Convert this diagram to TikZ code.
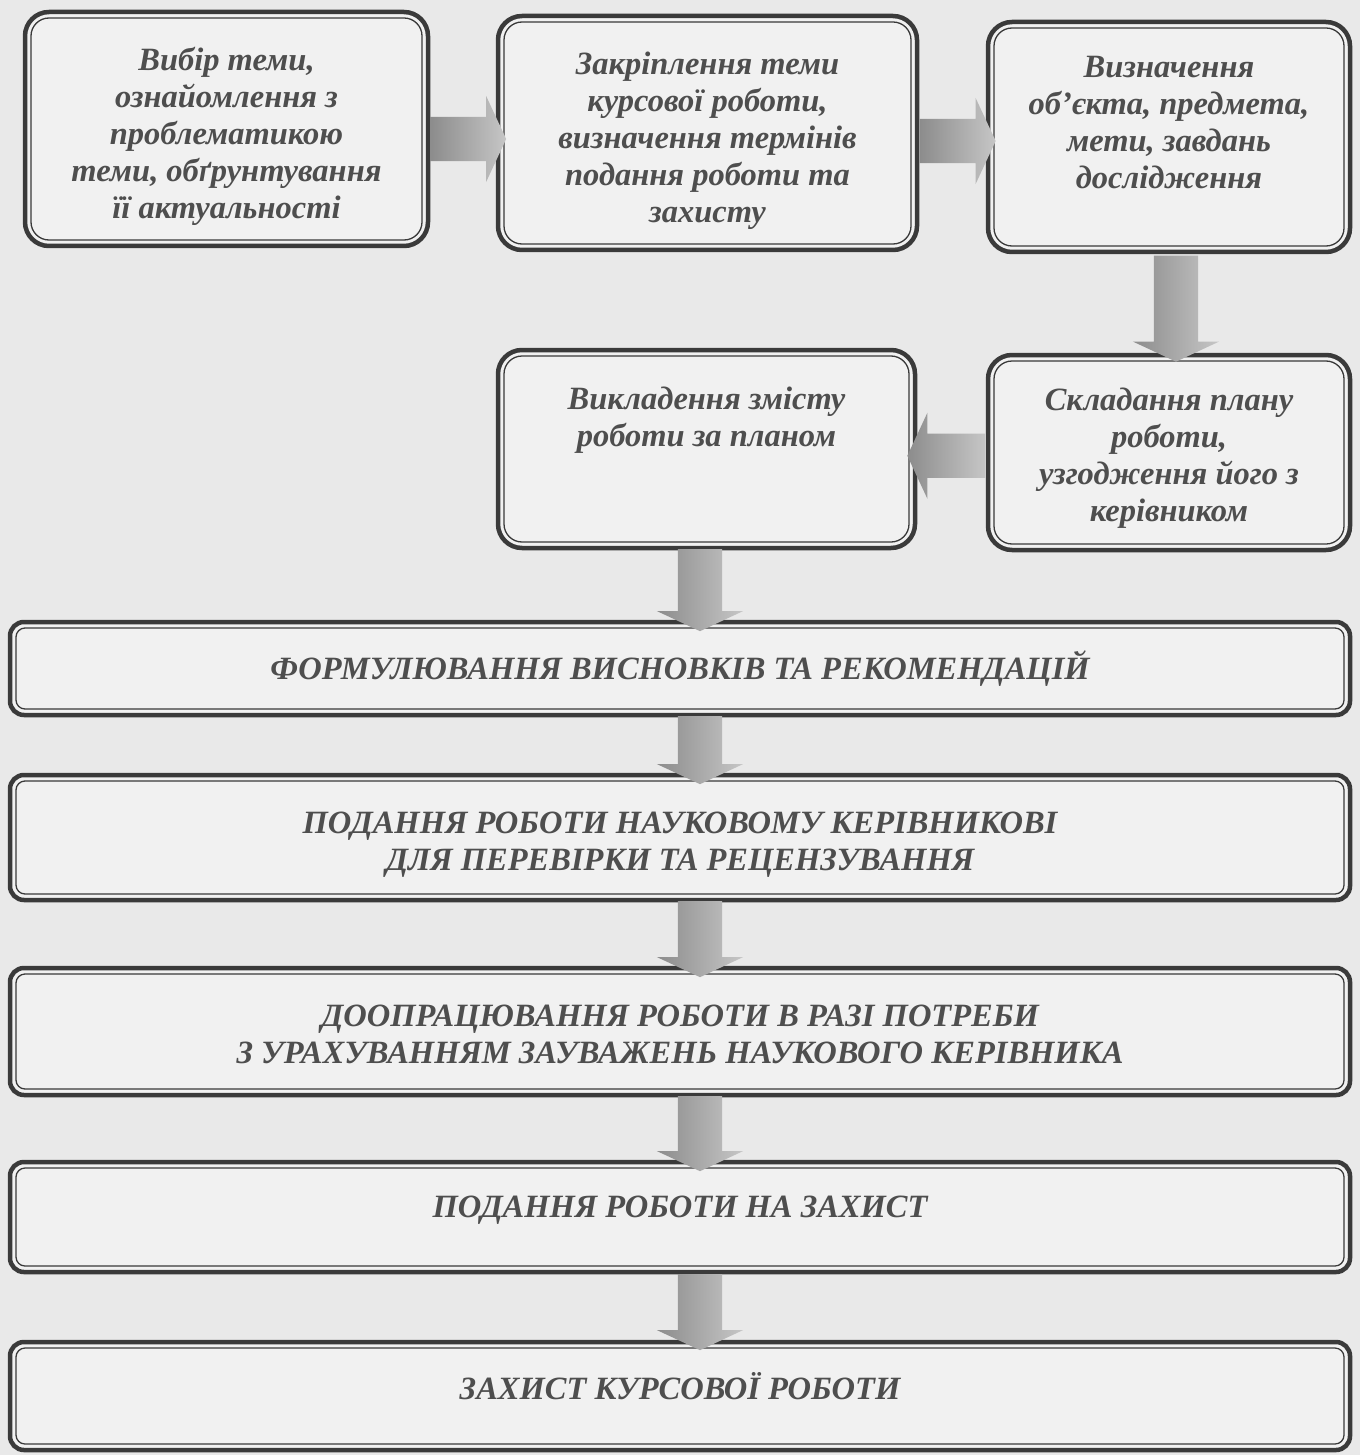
\documentclass[tikz,border=0pt]{standalone}
\usepackage{fontspec}
\setmainfont{Liberation Serif}
\usetikzlibrary{shapes.arrows,calc}

\definecolor{pagegray}{HTML}{E9E9E9}
\definecolor{boxfill}{HTML}{F1F1F1}
\definecolor{boxline}{HTML}{3A3A3A}
\definecolor{textgray}{HTML}{4E4E4E}
\definecolor{arrowdark}{HTML}{8C8C8C}
\definecolor{arrowlight}{HTML}{C6C6C6}

% first-line strut, pushes a centred block of text down
\newcommand\toppad[1]{\rule{0pt}{#1}}

\begin{document}
\begin{tikzpicture}[x=1pt,y=-1pt]
        \tikzstyle{stage text}=[align=center,text=textgray,font=\fontsize{32.5}{37}\selectfont\bfseries\itshape]
        \tikzstyle{stage box}=[stage text,draw=boxline,line width=4.5pt,fill=boxfill,rounded corners=24pt,inner sep=0pt,
            path picture={\draw[boxline,line width=1.3pt,rounded corners=18pt]
                ([shift={(6pt,-6pt)}]path picture bounding box.north west) rectangle
                ([shift={(-6pt,6pt)}]path picture bounding box.south east);}]
        \tikzstyle{wide box}=[stage text,draw=boxline,line width=4.5pt,fill=boxfill,rounded corners=14pt,inner sep=0pt,
            minimum width=1340pt,
            path picture={\draw[boxline,line width=1.3pt,rounded corners=9pt]
                ([shift={(6pt,-6pt)}]path picture bounding box.north west) rectangle
                ([shift={(-6pt,6pt)}]path picture bounding box.south east);}]
        \tikzstyle{flow arrow}=[single arrow,draw=none,inner xsep=0pt,inner ysep=22pt,
            single arrow head extend=21pt,single arrow tip angle=130,
            left color=arrowdark,right color=arrowlight]

        % Page
        \fill[pagegray] (0,0) rectangle (1360,1455);
        \useasboundingbox (0,0) rectangle (1360,1455);

        % Top row
        \node[stage box,minimum width=403pt,minimum height=234pt](vybir) at (226.5,129)
            {\toppad{39pt}Вибір теми,\\ознайомлення з\\проблематикою\\теми, обґрунтування\\її актуальності};
        \node[stage box,minimum width=419pt,minimum height=234pt](zakriplennia) at (707.5,133)
            {\toppad{39pt}Закріплення теми\\курсової роботи,\\визначення термінів\\подання роботи та\\захисту};
        \node[stage box,minimum width=362pt,minimum height=230pt](vyznachennia) at (1169,137)
            {Визначення\\об’єкта, предмета,\\мети, завдань\\дослідження\\[-8pt]\mbox{}};

        % Second row
        \node[stage box,minimum width=362pt,minimum height=195pt](skladannia) at (1169,452.5)
            {\toppad{33.5pt}Складання плану\\роботи,\\узгодження його з\\керівником};
        \node[stage box,minimum width=417pt,minimum height=198pt](vykladennia) at (706.5,449)
            {Викладення змісту\\роботи за планом\\\mbox{}\\[-10pt]\mbox{}};

        % Full-width stages
        \node[wide box,minimum height=93pt](formuliuvannia) at (680,668.5)
            {\toppad{25pt}ФОРМУЛЮВАННЯ ВИСНОВКІВ ТА РЕКОМЕНДАЦІЙ};
        \node[wide box,minimum height=125pt](perevirka) at (680,837.5)
            {\toppad{35.5pt}ПОДАННЯ РОБОТИ НАУКОВОМУ КЕРІВНИКОВІ\\ДЛЯ ПЕРЕВІРКИ ТА РЕЦЕНЗУВАННЯ};
        \node[wide box,minimum height=127pt](doopratsiuvannia) at (680,1031.5)
            {\toppad{27.5pt}ДООПРАЦЮВАННЯ РОБОТИ В РАЗІ ПОТРЕБИ\\З УРАХУВАННЯМ ЗАУВАЖЕНЬ НАУКОВОГО КЕРІВНИКА};
        \node[wide box,minimum height=110pt](podannia) at (680,1217)
            {ПОДАННЯ РОБОТИ НА ЗАХИСТ\\[-17pt]\mbox{}};
        \node[wide box,minimum height=108pt](zakhyst) at (680,1396)
            {ЗАХИСТ КУРСОВОЇ РОБОТИ\\[-16pt]\mbox{}};

        % Arrows between stages
        \coordinate (axis) at (700,0);
        \node[flow arrow,minimum height=76pt] at ($(vybir.east)!.5!(zakriplennia.west)+(0,8)$) {};
        \node[flow arrow,minimum height=76pt] at ($(zakriplennia.east)!.5!(vyznachennia.west)+(0,6)$) {};
        \node[flow arrow,rotate=-90,minimum height=106pt] at ($(vyznachennia.south)!.5!(skladannia.north)+(7,0)$) {};
        \node[flow arrow,rotate=180,minimum height=78pt] at ($(skladannia.west)!.5!(vykladennia.east)+(0,5)$) {};
        \node[flow arrow,rotate=-90,minimum height=82pt] at ($(axis |- vykladennia.south)!.5!(axis |- formuliuvannia.north)$) {};
        \node[flow arrow,rotate=-90,minimum height=68pt] at ($(axis |- formuliuvannia.south)!.5!(axis |- perevirka.north)$) {};
        \node[flow arrow,rotate=-90,minimum height=76pt] at ($(axis |- perevirka.south)!.5!(axis |- doopratsiuvannia.north)$) {};
        \node[flow arrow,rotate=-90,minimum height=75pt] at ($(axis |- doopratsiuvannia.south)!.5!(axis |- podannia.north)$) {};
        \node[flow arrow,rotate=-90,minimum height=76pt] at ($(axis |- podannia.south)!.5!(axis |- zakhyst.north)$) {};
    \end{tikzpicture}
\end{document}
